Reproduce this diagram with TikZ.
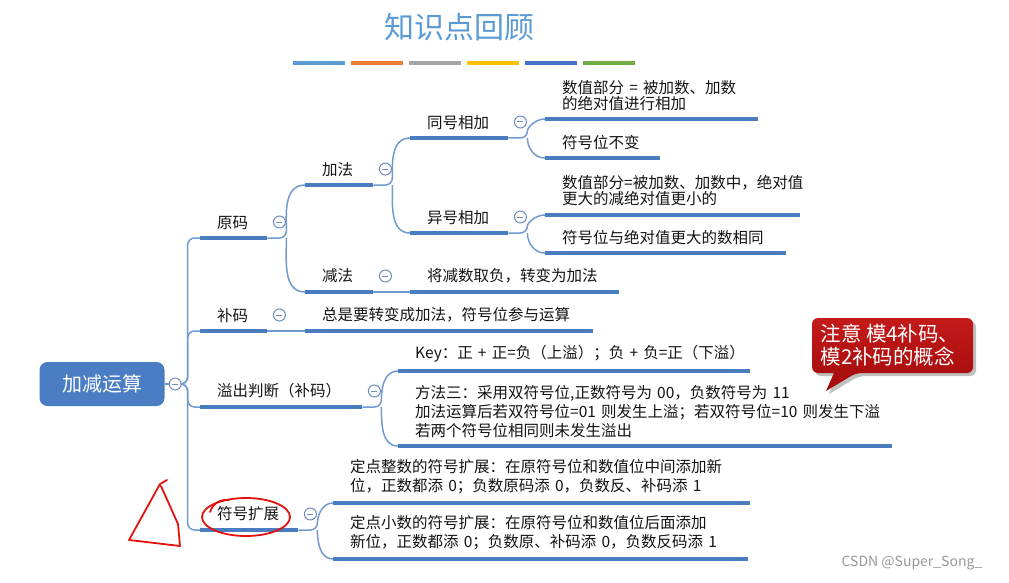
\documentclass[tikz,border=0pt]{standalone}
\usepackage{fontspec}
\newfontfamily\cjk{Noto Sans CJK SC}
\usetikzlibrary{positioning}

\definecolor{titleblue}{HTML}{5B9BD5}
\definecolor{rootblue}{HTML}{4A7DC4}
\definecolor{lineblue}{HTML}{4A7CC0}
\definecolor{connblue}{HTML}{6F9BD1}
\definecolor{foldgray}{HTML}{6E8DB8}
\definecolor{calltop}{HTML}{C41A1A}
\definecolor{callbot}{HTML}{A30A0A}
\definecolor{inkred}{HTML}{E3120F}
\definecolor{barblue}{HTML}{5B9BD5}
\definecolor{barorange}{HTML}{ED7D31}
\definecolor{bargray}{HTML}{A5A5A5}
\definecolor{baryellow}{HTML}{FFC000}
\definecolor{bardark}{HTML}{4472C4}
\definecolor{bargreen}{HTML}{70AD47}

\tikzset{
  topic/.style={anchor=south west, inner xsep=17pt, inner ysep=8.5pt, align=left,
    text=black!92, font=\cjk\fontsize{15.5}{19}\selectfont},
  tight/.style={font=\cjk\fontsize{15.5}{16}\selectfont},
  uline/.style={lineblue, line width=4pt},
  conn/.style={connblue, line width=1.5pt, rounded corners=7pt},
  fold/.style={circle, draw=foldgray, fill=white, line width=1pt, minimum size=12pt, inner sep=0pt,
    path picture={\draw[foldgray, line width=1pt] ([xshift=3pt]path picture bounding box.west)
      -- ([xshift=-3pt]path picture bounding box.east);}},
  root/.style={fill=rootblue, rounded corners=8pt, minimum width=125pt, minimum height=44pt,
    text=white, font=\cjk\fontsize{20}{24}\selectfont},
  ink/.style={draw=inkred, line width=1.8pt, line cap=round, line join=round},
}

\begin{document}
\begin{tikzpicture}[x=1pt, y=-1pt]
    % Page
    \fill[white] (0,0) rectangle (1009,583);
    \useasboundingbox (0,0) rectangle (1009,583);

    % Title and colour bars
    \node[text=titleblue, font=\cjk\fontsize{30}{34}\selectfont] (title) at (459,27) {知识点回顾};
    \foreach \c [count=\i from 0] in {barblue,barorange,bargray,baryellow,bardark,bargreen}
        \fill[\c] (293+58*\i,61) rectangle ++(52,4.5);

    % Root
    \node[root] (root) at (102,384) {加减运算};
    \node[fold, right=4pt of root] (f0) {};

    % First level
    \node[topic, text width=33pt] (yuanma) at (200,238) {原码};
    \node[topic, text width=33pt] (buma) at (200,331) {补码};
    \node[topic, text width=128pt] (yichu) at (200,407) {溢出判断（补码）};
    \node[topic, text width=64pt] (kuozhan) at (200,530) {符号扩展};

    % Second level
    \node[topic, text width=34pt] (jiafa) at (305,185) {加法};
    \node[topic, text width=34pt] (jianfa) at (305,292) {减法};
    \node[topic, text width=254pt] (bm1) at (305,331) {总是要转变成加法，符号位参与运算};
    \node[topic, text width=318pt] (yc1) at (398,371) {Key：正~+~正=负（上溢）；负~+~负=正（下溢）};
    \node[topic, text width=460pt] (yc2) at (398,446) {方法三：采用双符号位,正数符号为~00，负数符号为~11\\加法运算后若双符号位=01~则发生上溢；若双符号位=10~则发生下溢\\若两个符号位相同则未发生溢出};
    \node[topic, text width=383pt] (kz1) at (333,503) {定点整数的符号扩展：在原符号位和数值位中间添加新\\位，正数都添~0；负数原码添~0，负数反、补码添~1};
    \node[topic, text width=381pt] (kz2) at (333,559) {定点小数的符号扩展：在原符号位和数值位后面添加\\新位，正数都添~0；负数原、补码添~0，负数反码添~1};

    % Third level
    \node[topic, text width=64pt] (tonghao) at (410,138) {同号相加};
    \node[topic, text width=64pt] (yihao) at (410,233) {异号相加};
    \node[topic, text width=175pt] (jf1) at (410,292) {将减数取负，转变为加法};

    % Fourth level
    \node[topic, tight, text width=179pt] (th1) at (545,119) {数值部分~=~被加数、加数\\的绝对值进行相加};
    \node[topic, text width=81pt] (th2) at (545,158) {符号位不变};
    \node[topic, tight, text width=221pt] (yh1) at (545,215) {数值部分=被加数、加数中，绝对值\\更大的减绝对值更小的};
    \node[topic, text width=207pt] (yh2) at (545,253) {符号位与绝对值更大的数相同};

    % Underlines
    \foreach \n in {yuanma,buma,yichu,kuozhan,jiafa,jianfa,bm1,yc1,yc2,kz1,kz2,tonghao,yihao,jf1,th1,th2,yh1,yh2}
        \draw[uline] (\n.south west) -- (\n.south east);

    % Connectors
    \draw[conn] (root.east) -- (f0.west);
    \foreach \n in {yuanma,buma,yichu,kuozhan}
        \draw[conn] (f0.east) -- ++(6,0) |- (\n.south west);
    \foreach \p/\a/\b in {yuanma/jiafa/jianfa, jiafa/tonghao/yihao, tonghao/th1/th2,
                          yihao/yh1/yh2, yichu/yc1/yc2, kuozhan/kz1/kz2} {
        \draw[conn] (\p.south east) -- ++(19,0) coordinate (br)
            to[out=90, in=180] (\a.south west);
        \draw[conn] (br) to[out=-90, in=180] (\b.south west);
    }
    \draw[conn] (buma.south east) -- (bm1.south west);
    \draw[conn] (jianfa.south east) -- (jf1.south west);

    % Fold marks
    \foreach \n/\f in {yuanma/f1, buma/f2, yichu/f3, kuozhan/f4, jiafa/f5, jianfa/f6, tonghao/f7, yihao/f8}
        \node[fold] (\f) at ([shift={(12,-16)}]\n.south east) {};

    % Callout
    \fill[black!25] (895,321) [rounded corners=6pt] -- (976,321) -- (976,376) -- (859,376)
        [sharp corners] -- (829,394) -- (837,376) [rounded corners=6pt] -- (815,376) -- (815,321) -- cycle;
    \shade[top color=calltop, bottom color=callbot] (892,318) [rounded corners=6pt] -- (973,318) -- (973,373) -- (856,373)
        [sharp corners] -- (826,391) -- (834,373) [rounded corners=6pt] -- (812,373) -- (812,318) -- cycle;
    \node[text=white, align=left, font=\cjk\fontsize{20.5}{23}\selectfont] (note) at (890,345) {注意~模4补码、\\模2补码的概念};

    % Hand marks
    \draw[ink] (167,480) -- (160,484) -- (129,540) -- (180,546) -- (178,524) -- (161,486);
    \draw[ink] (246,517) ellipse [x radius=44, y radius=19];
    \draw[ink] (210,512) .. controls (213,503) and (221,499) .. (229,500);

    % Watermark
    \node[text=black!40, font=\cjk\fontsize{14}{16}\selectfont] (wm) at (912,563) {CSDN @Super\_Song\_};
\end{tikzpicture}
\end{document}
